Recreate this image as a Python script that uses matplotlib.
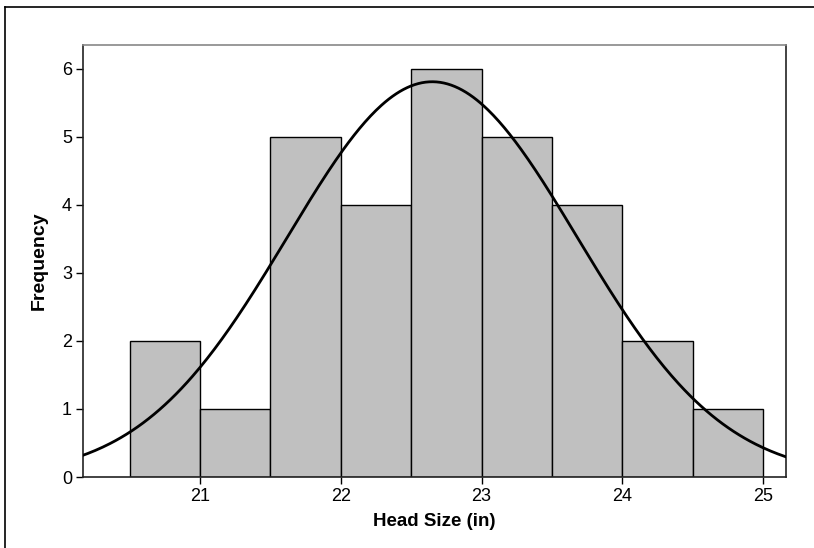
import numpy as np
import matplotlib
matplotlib.use("Agg")
from matplotlib import pyplot as plt
from matplotlib.lines import Line2D

# histogram bins (head size, inches) and counts
bin_edges = [20.5, 21.0, 21.5, 22.0, 22.5, 23.0, 23.5, 24.0, 24.5, 25.0]
counts = [2, 1, 5, 4, 6, 5, 4, 2, 1]

# fitted normal curve parameters
fit_mean = 22.65
fit_sd = 1.03

plt.rcParams['font.family'] = ['Liberation Sans', 'DejaVu Sans']

W, H = 814, 548
fig = plt.figure(figsize=(W / 100, H / 100), dpi=100)
ax = fig.add_axes([83 / W, 1 - 477 / H, (786 - 83) / W, (477 - 45) / H])

left = np.array(bin_edges[:-1])
widths = np.diff(bin_edges)
ax.bar(left, counts, width=widths, align='edge', color='#c0c0c0',
       edgecolor='black', linewidth=1.0, zorder=2)

xs = np.linspace(20.1, 25.3, 400)
n = sum(counts)
bw = widths[0]
ys = n * bw / (fit_sd * np.sqrt(2 * np.pi)) * np.exp(-0.5 * ((xs - fit_mean) / fit_sd) ** 2)
ax.plot(xs, ys, color='black', linewidth=2.0, zorder=3)

ax.set_xlim(20.169, 25.163)
ax.set_ylim(0, 6.35)
ax.set_xticks([21, 22, 23, 24, 25])
ax.set_yticks([0, 1, 2, 3, 4, 5, 6])
ax.tick_params(direction='out', length=5, width=1, labelsize=13, pad=3)
for s in ax.spines.values():
    s.set_linewidth(1.2)
    s.set_color('#222222')
ax.spines['top'].set_color('#888888')

ax.set_xlabel('Head Size (in)', fontsize=13.5, fontweight='bold', labelpad=6)
ax.set_ylabel('Frequency', fontsize=14, fontweight='bold', labelpad=10)

# outer frame lines
fig.add_artist(Line2D([5 / W, 1.0], [1 - 7 / H, 1 - 7 / H], color='black', linewidth=1.2, transform=fig.transFigure))
fig.add_artist(Line2D([5 / W, 5 / W], [0.0, 1 - 7 / H], color='black', linewidth=1.2, transform=fig.transFigure))

fig.savefig('out.png', dpi=100)
